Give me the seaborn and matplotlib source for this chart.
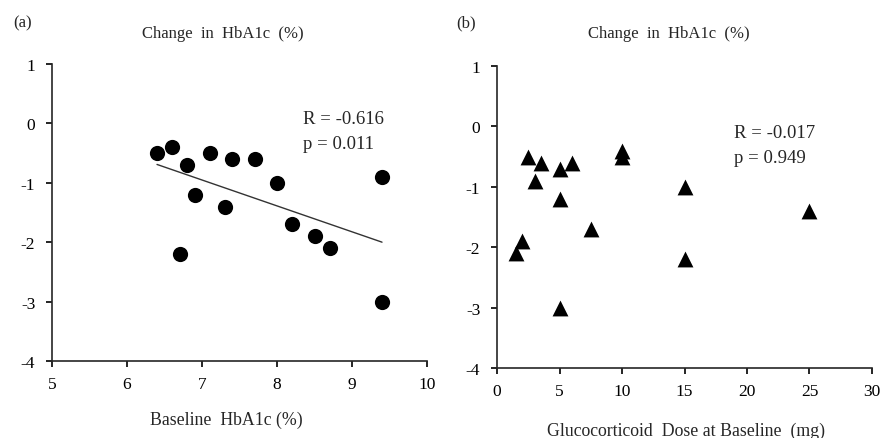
import numpy as np
import pandas as pd
import seaborn as sns
import matplotlib
matplotlib.use("Agg")
import matplotlib.pyplot as plt

# Panel (a): baseline HbA1c vs change in HbA1c
baseline_hba1c = [6.4, 6.6, 6.8, 7.1, 7.4, 7.7, 8.0, 9.4, 6.9, 7.3, 6.7, 8.2, 8.5, 8.7, 9.4]
change_a = [-0.5, -0.4, -0.7, -0.5, -0.6, -0.6, -1.0, -0.9, -1.2, -1.4, -2.2, -1.7, -1.9, -2.1, -3.0]

# Panel (b): glucocorticoid dose vs change in HbA1c
gc_dose = [2.5, 3.5, 3, 5, 6, 5, 10, 10, 15, 25, 7.5, 2, 1.5, 15, 5]
change_b = [-0.5, -0.6, -0.9, -0.7, -0.6, -1.2, -0.4, -0.5, -1.0, -1.4, -1.7, -1.9, -2.1, -2.2, -3.0]

stats_a = ["R = -0.616", "p = 0.011"]
stats_b = ["R = -0.017", "p = 0.949"]

df_a = pd.DataFrame({"x": baseline_hba1c, "y": change_a})
df_b = pd.DataFrame({"x": gc_dose, "y": change_b})

sns.set_style("ticks")
plt.rcParams["font.family"] = ["Liberation Serif", "DejaVu Serif"]
plt.rcParams["font.size"] = 12
plt.rcParams["axes.unicode_minus"] = False

fig = plt.figure(figsize=(8.83, 4.39), dpi=100)
ax_a = fig.add_axes([0.0589, 0.1754, 0.4247, 0.6766])
ax_b = fig.add_axes([0.5629, 0.1594, 0.4246, 0.6879])


def style_axis(ax):
    sns.despine(ax=ax)
    ax.spines["left"].set_linewidth(1.2)
    ax.spines["bottom"].set_linewidth(1.2)
    ax.tick_params(direction="out", length=4, width=1.2, labelsize=12.5, colors="black")
    ax.tick_params(axis="y", pad=8)
    ax.tick_params(axis="x", pad=7)
    ax.set_ylim(-4, 1)
    ax.set_yticks([1, 0, -1, -2, -3, -4])
    ax.set_xlabel("")
    ax.set_ylabel("")


# (a)
sns.scatterplot(data=df_a, x="x", y="y", ax=ax_a, color="black", marker="o",
                s=120, edgecolor="black", linewidth=0, zorder=3)
sns.regplot(data=df_a, x="x", y="y", ax=ax_a, scatter=False, ci=None, truncate=True,
            line_kws={"color": "#333333", "linewidth": 1.0})
style_axis(ax_a)
ax_a.set_xlim(5, 10)
ax_a.set_xticks([5, 6, 7, 8, 9, 10])
ax_a.text(8.35, 0.08, stats_a[0], fontsize=13.5, va="center", ha="left")
ax_a.text(8.35, -0.34, stats_a[1], fontsize=13.5, va="center", ha="left")
ax_a.text(0.456, 1.104, "Change  in  HbA1c  (%)", transform=ax_a.transAxes,
          ha="center", va="center", fontsize=12)
ax_a.text(0.465, -0.195, "Baseline  HbA1c (%)", transform=ax_a.transAxes,
          ha="center", va="center", fontsize=12.8)
fig.text(23 / 883, 1 - 23 / 439, "(a)", ha="center", va="center", fontsize=12)

# (b)
sns.scatterplot(data=df_b, x="x", y="y", ax=ax_b, color="black", marker="^",
                s=130, edgecolor="black", linewidth=0, zorder=3)
style_axis(ax_b)
ax_b.set_xlim(0, 30)
ax_b.set_xticks([0, 5, 10, 15, 20, 25, 30])
ax_b.text(19.0, -0.1, stats_b[0], fontsize=13.5, va="center", ha="left")
ax_b.text(19.0, -0.51, stats_b[1], fontsize=13.5, va="center", ha="left")
ax_b.text(0.459, 1.109, "Change  in  HbA1c  (%)", transform=ax_b.transAxes,
          ha="center", va="center", fontsize=12)
ax_b.text(0.505, -0.205, "Glucocorticoid  Dose at Baseline  (mg)", transform=ax_b.transAxes,
          ha="center", va="center", fontsize=12.8)
fig.text(466 / 883, 1 - 23 / 439, "(b)", ha="center", va="center", fontsize=12)

fig.savefig("out.png", dpi=100, facecolor="white")
plt.close(fig)
